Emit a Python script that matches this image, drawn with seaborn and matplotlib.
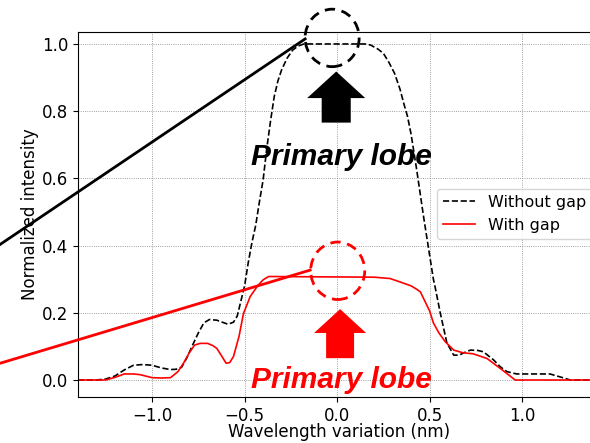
import matplotlib
matplotlib.use("Agg")
import matplotlib.pyplot as plt
from matplotlib.patches import Ellipse, FancyArrow
import numpy as np
import pandas as pd
import seaborn as sns

# Spectral response without the gap (normalized)
wl_nogap = [-1.4, -1.3, -1.25, -1.2, -1.15, -1.1, -1.05, -1.0, -0.95, -0.9, -0.87,
            -0.84, -0.81, -0.78, -0.75, -0.72, -0.69, -0.65, -0.62, -0.59, -0.56,
            -0.54, -0.52, -0.5, -0.48, -0.46, -0.44, -0.42, -0.4, -0.38, -0.36,
            -0.34, -0.32, -0.3, -0.27, -0.24, -0.21, -0.18, -0.1, 0.0, 0.1, 0.15,
            0.18, 0.22, 0.25, 0.28, 0.31, 0.34, 0.36, 0.38, 0.4, 0.43, 0.467, 0.5,
            0.52, 0.53, 0.557, 0.593, 0.63, 0.66, 0.68, 0.72, 0.76, 0.79, 0.845,
            0.88, 0.917, 0.97, 1.15, 1.2, 1.26, 1.4]
int_nogap = [0.0, 0.0, 0.003, 0.012, 0.03, 0.044, 0.046, 0.044, 0.036, 0.031, 0.032,
             0.038, 0.068, 0.105, 0.14, 0.17, 0.18, 0.178, 0.172, 0.166, 0.172,
             0.19, 0.235, 0.28, 0.35, 0.41, 0.46, 0.53, 0.595, 0.69, 0.77,
             0.843, 0.89, 0.923, 0.958, 0.982, 0.994, 1.0, 1.0, 1.0, 1.0, 1.0,
             0.997, 0.985, 0.972, 0.945, 0.913, 0.865, 0.823, 0.785, 0.73, 0.625, 0.486, 0.37,
             0.3, 0.275, 0.2, 0.11, 0.074, 0.074, 0.08, 0.089, 0.088, 0.084, 0.06,
             0.04, 0.025, 0.018, 0.018, 0.01, 0.0, 0.0]

# Spectral response with the gap (normalized to the gap-free peak)
wl_gap = [-1.4, -1.25, -1.2, -1.15, -1.1, -1.065, -1.0, -0.95, -0.9, -0.86, -0.83,
          -0.8, -0.77, -0.74, -0.7, -0.67, -0.65, -0.62, -0.6, -0.58, -0.56, -0.53,
          -0.506, -0.47, -0.43, -0.4, -0.37, 0.2, 0.286, 0.36, 0.4, 0.43, 0.45,
          0.5, 0.52, 0.55, 0.584, 0.63, 0.68, 0.735, 0.81, 0.88, 0.962, 1.4]
int_gap = [0.0, 0.0, 0.008, 0.018, 0.018, 0.016, 0.007, 0.006, 0.007, 0.025, 0.05,
           0.08, 0.104, 0.109, 0.109, 0.102, 0.094, 0.068, 0.05, 0.052, 0.07, 0.13,
           0.198, 0.248, 0.28, 0.298, 0.308, 0.306, 0.302, 0.288, 0.28, 0.27, 0.262,
           0.205, 0.17, 0.14, 0.114, 0.089, 0.081, 0.078, 0.064, 0.035, 0.0, 0.0]

series_labels = ["Without gap", "With gap"]
x_ticks = [-1.0, -0.5, 0.0, 0.5, 1.0]
y_ticks = [0.0, 0.2, 0.4, 0.6, 0.8, 1.0]

plt.rcParams["font.size"] = 12
plt.rcParams["font.family"] = ["DejaVu Sans"]

fig = plt.figure(figsize=(5.9, 4.43), dpi=100)
ax = fig.add_axes([0.1322, 0.1038, 0.8847, 0.825])

df_nogap = pd.DataFrame({"wl": wl_nogap, "I": int_nogap})
df_gap = pd.DataFrame({"wl": wl_gap, "I": int_gap})

sns.lineplot(data=df_nogap, x="wl", y="I", ax=ax, color="black", linestyle="--",
             linewidth=1.2, label=series_labels[0], sort=False)
sns.lineplot(data=df_gap, x="wl", y="I", ax=ax, color="red", linestyle="-",
             linewidth=1.2, label=series_labels[1], sort=False)

ax.set_xlim(-1.4, 1.42)
ax.set_ylim(-0.0506, 1.037)
ax.set_xticks(x_ticks)
ax.set_yticks(y_ticks)
ax.grid(True, linestyle=":", linewidth=0.6, color="gray")
ax.set_xlabel("Wavelength variation (nm)", fontsize=12, labelpad=-1)
ax.set_ylabel("Normalized intensity", fontsize=12, labelpad=2)
ax.tick_params(labelsize=12)

# Highlight circles around the main-lobe peaks
ax.add_patch(Ellipse((-0.027, 1.018), 0.292, 0.171, fill=False, edgecolor="black",
                     linewidth=2, linestyle=(0, (3.7, 2.4)), clip_on=False, zorder=5))
ax.add_patch(Ellipse((0.003, 0.325), 0.292, 0.171, fill=False, edgecolor="red",
                     linewidth=2, linestyle=(0, (3.7, 2.4)), clip_on=False, zorder=5))

# Leader lines running out to the left of the plot
ax.plot([-1.822, -0.173], [0.403, 1.015], color="black", linewidth=2, clip_on=False, zorder=5)
ax.plot([-1.822, -0.146], [0.0497, 0.327], color="red", linewidth=2, clip_on=False, zorder=5)

# Upward arrows pointing at the peaks
ax.add_patch(FancyArrow(-0.005, 0.766, 0.0, 0.152, width=0.157, head_width=0.314,
                        head_length=0.079, length_includes_head=True,
                        color="black", linewidth=0, zorder=5))
ax.add_patch(FancyArrow(0.016, 0.065, 0.0, 0.146, width=0.151, head_width=0.281,
                        head_length=0.071, length_includes_head=True,
                        color="red", linewidth=0, zorder=5))

lobe_font = ["Liberation Sans", "DejaVu Sans"]
ax.text(0.0245, 0.64, "Primary lobe", ha="center", va="baseline", fontsize=21.5,
        fontweight="bold", fontstyle="italic", family=lobe_font, color="black")
ax.text(0.0245, -0.025, "Primary lobe", ha="center", va="baseline", fontsize=21.5,
        fontweight="bold", fontstyle="italic", family=lobe_font, color="red",
        zorder=6)

ax.legend(loc="center left", bbox_to_anchor=(0.6877, 0.5007), borderaxespad=0,
          fontsize=11.5)

fig.savefig("out.png", dpi=100)
